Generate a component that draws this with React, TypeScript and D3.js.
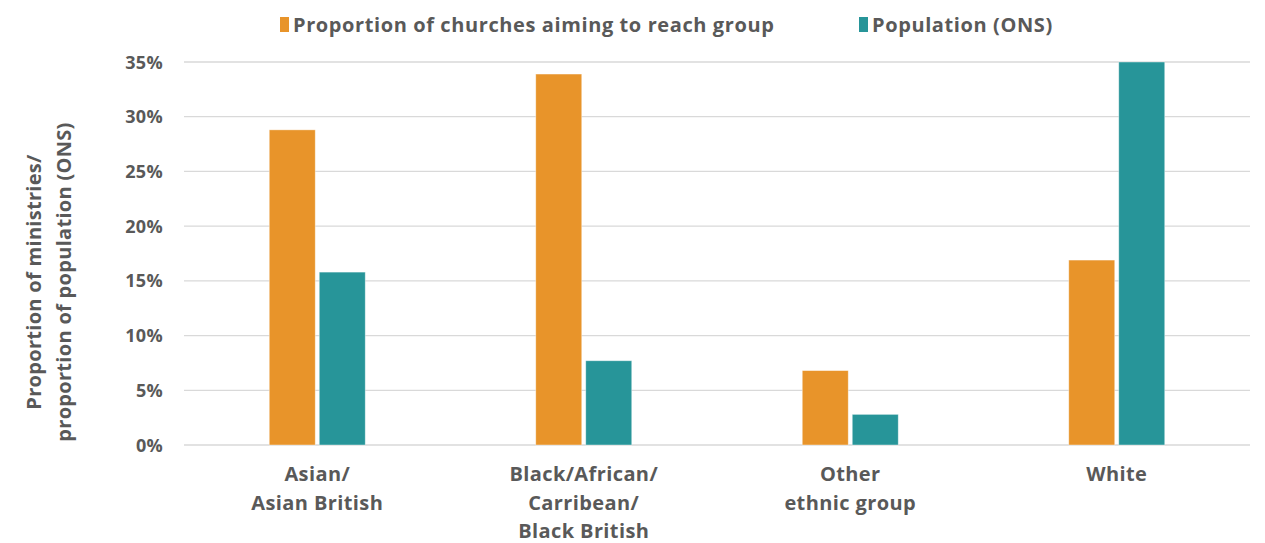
import React from "react";
import * as d3 from "d3";

const categories: string[][] = [
  ["Asian/", "Asian British"],
  ["Black/African/", "Carribean/", "Black British"],
  ["Other", "ethnic group"],
  ["White"],
];
const seriesNames = ["Proportion of churches aiming to reach group", "Population (ONS)"];
const churchesValues = [28.8, 33.9, 6.8, 16.9];
const populationValues = [15.8, 7.7, 2.8, 35];
const yTicks = [0, 5, 10, 15, 20, 25, 30, 35];
const colors = ["#E8942A", "#279599"];

const W = 1265;
const H = 543;
const margin = { left: 184, right: 15, top: 62, bottom: 98 };
const FONT = "'Open Sans', Lato, sans-serif";
const TEXT = "#595959";

export default function App() {
  const x = d3
    .scaleBand<number>()
    .domain(categories.map((_, i) => i))
    .range([margin.left, W - margin.right])
    .paddingInner(0)
    .paddingOuter(0);
  const y = d3.scaleLinear().domain([0, 35]).range([H - margin.bottom, margin.top]);
  const barW = 46;
  const gap = 4;
  const series = [churchesValues, populationValues];

  return (
    <svg
      width={W}
      height={H}
      style={{ position: "absolute", left: 0, top: 0, background: "#fff" }}
      fontFamily={FONT}
    >
      {yTicks.map((t) => (
        <g key={t}>
          <line
            x1={margin.left}
            x2={W - margin.right}
            y1={y(t)}
            y2={y(t)}
            stroke="#d9d9d9"
            strokeWidth={1.3}
          />
          <text
            x={163}
            y={y(t) + 6.5}
            textAnchor="end"
            fontSize={18}
            fontWeight={700}
            fill={TEXT}
            letterSpacing={0.3}
          >
            {t}%
          </text>
        </g>
      ))}
      {categories.map((_, i) => {
        const c = (x(i) as number) + x.bandwidth() / 2;
        return series.map((vals, s) => {
          const v = Math.min(vals[i], 35);
          const bx = s === 0 ? c - gap / 2 - barW : c + gap / 2;
          return (
            <rect
              key={`${i}-${s}`}
              x={bx}
              y={y(v)}
              width={barW}
              height={y(0) - y(v)}
              fill={colors[s]}
              stroke="#ffffff"
              strokeOpacity={0.5}
              strokeWidth={0.8}
            />
          );
        });
      })}
      {categories.map((lines, i) => {
        const c = (x(i) as number) + x.bandwidth() / 2;
        return (
          <text
            key={i}
            x={c}
            textAnchor="middle"
            fontSize={20}
            fontWeight={700}
            fill={TEXT}
            letterSpacing={0.4}
          >
            {lines.map((l, j) => (
              <tspan key={j} x={c} y={481 + j * 28.5}>
                {l}
              </tspan>
            ))}
          </text>
        );
      })}
      <text
        transform={`translate(41, 282) rotate(-90)`}
        textAnchor="middle"
        fontSize={20}
        fontWeight={700}
        fill={TEXT}
        letterSpacing={0.3}
      >
        <tspan x={0} y={0}>Proportion of ministries/</tspan>
        <tspan x={0} y={30}>proportion of population (ONS)</tspan>
      </text>
      {seriesNames.map((name, s) => {
        const lx = s === 0 ? 280 : 859;
        return (
          <g key={name}>
            <rect x={lx} y={17} width={9} height={15} fill={colors[s]} />
            <text
              x={lx + 13}
              y={32}
              fontSize={20}
              fontWeight={700}
              fill={TEXT}
              letterSpacing={0.6}
            >
              {name}
            </text>
          </g>
        );
      })}
    </svg>
  );
}
